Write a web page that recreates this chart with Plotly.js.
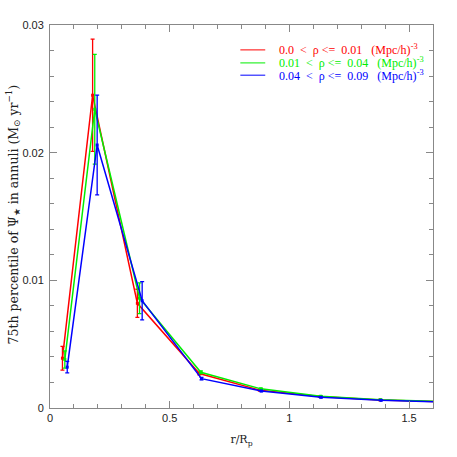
<!DOCTYPE html>
<html>
<head>
<meta charset="utf-8">
<script src="https://cdn.plot.ly/plotly-3.0.1.min.js"></script>
<style>
  html, body { margin: 0; padding: 0; background: #fff; }
  #chart { width: 457px; height: 457px; }
</style>
</head>
<body>
<div id="chart"></div>
<script>
// radius bins (r / R_p), slightly offset per density bin
const redR = [0.052, 0.178, 0.365, 0.624, 0.876, 1.127, 1.378, 1.63];
const greenR = [0.062, 0.187, 0.374, 0.630, 0.881, 1.131, 1.381, 1.63];
const blueR = [0.072, 0.197, 0.385, 0.633, 0.883, 1.132, 1.383, 1.63];

// 75th percentile of SFR in annuli
const redVals = [0.0039, 0.0245, 0.0082, 0.0027, 0.0014, 0.00090, 0.00063, 0.00050];
const greenVals = [0.0038, 0.0234, 0.0086, 0.0028, 0.0015, 0.00092, 0.00065, 0.00052];
const blueVals = [0.0032, 0.0206, 0.0084, 0.0023, 0.00133, 0.00084, 0.00060, 0.00048];

const redErr = [0.00093, 0.0044, 0.0011, 0.0001, 0.00005, 0.00004, 0.00003, 0.00003];
const greenErr = [0.00067, 0.0043, 0.0012, 0.0001, 0.00005, 0.00004, 0.00003, 0.00003];
const blueErr = [0.00045, 0.0039, 0.0015, 0.0001, 0.00005, 0.00004, 0.00003, 0.00003];

const labels = [
  '0.0  &lt;  ρ &lt;=  0.01   (Mpc/h)<sup>-3</sup>',
  '0.01  &lt;  ρ &lt;=  0.04   (Mpc/h)<sup>-3</sup>',
  '0.04  &lt;  ρ &lt;=  0.09   (Mpc/h)<sup>-3</sup>'
];
const colors = ['#ff0000', '#00ee00', '#0000ff'];

const series = [
  [redR, redVals, redErr],
  [greenR, greenVals, greenErr],
  [blueR, blueVals, blueErr]
];

const data = series.map((s, i) => ({
  x: s[0],
  y: s[1],
  mode: 'lines+markers',
  line: { color: colors[i], width: 1.5 },
  marker: { color: colors[i], size: 3, symbol: 'square' },
  error_y: { type: 'data', array: s[2], color: colors[i], thickness: 1.3, width: 2 }
}));

// hand-made legend: short line + coloured text, tight rows like the original
const legendRows = [0.935, 0.901, 0.869];
const shapes = [];
const annotations = [];
labels.forEach((lab, i) => {
  shapes.push({
    type: 'line', xref: 'paper', yref: 'paper',
    x0: 0.497, x1: 0.562, y0: legendRows[i], y1: legendRows[i],
    line: { color: colors[i], width: 1 }
  });
  annotations.push({
    xref: 'paper', yref: 'paper', x: 0.593, y: legendRows[i],
    xanchor: 'left', yanchor: 'middle', showarrow: false,
    text: lab,
    font: { family: 'Liberation Serif, serif', size: 12, color: colors[i] }
  });
});

annotations.push({
  xref: 'paper', yref: 'paper', x: -0.097, y: 0.505,
  xanchor: 'center', yanchor: 'middle', showarrow: false, textangle: -90,
  text: '75th percentile of Ψ<sub>★</sub> in annuli (M<sub>⊙</sub> yr<sup>−1</sup>)',
  font: { family: 'DejaVu Serif, serif', size: 12.5, color: '#222' }
});

const axisStyle = {
  showgrid: false,
  zeroline: false,
  showline: true,
  mirror: 'ticks',
  linecolor: '#888',
  linewidth: 1,
  ticks: 'inside',
  ticklen: 7,
  tickcolor: '#888',
  tickfont: { family: 'Liberation Sans, Arial, sans-serif', size: 11, color: '#222' }
};

const layout = {
  width: 457,
  height: 457,
  margin: { l: 49.5, r: 24, t: 25, b: 49 },
  paper_bgcolor: '#fff',
  plot_bgcolor: '#fff',
  showlegend: false,
  shapes: shapes,
  annotations: annotations,
  xaxis: Object.assign({}, axisStyle, {
    range: [0, 1.6],
    dtick: 0.5,
    tick0: 0,
    minor: { dtick: 0.1, ticks: 'inside', ticklen: 4, tickcolor: '#888' },
    title: { text: 'r/R<sub>p</sub>', font: { family: 'DejaVu Serif, serif', size: 11, color: '#222' }, standoff: 12 }
  }),
  yaxis: Object.assign({}, axisStyle, {
    range: [0, 0.03],
    dtick: 0.01,
    tick0: 0,
    ticklabelstandoff: 3,
    minor: { dtick: 0.002, ticks: 'inside', ticklen: 4, tickcolor: '#888' }
  })
};

Plotly.newPlot('chart', data, layout, { displayModeBar: false, staticPlot: true });
</script>
</body>
</html>
